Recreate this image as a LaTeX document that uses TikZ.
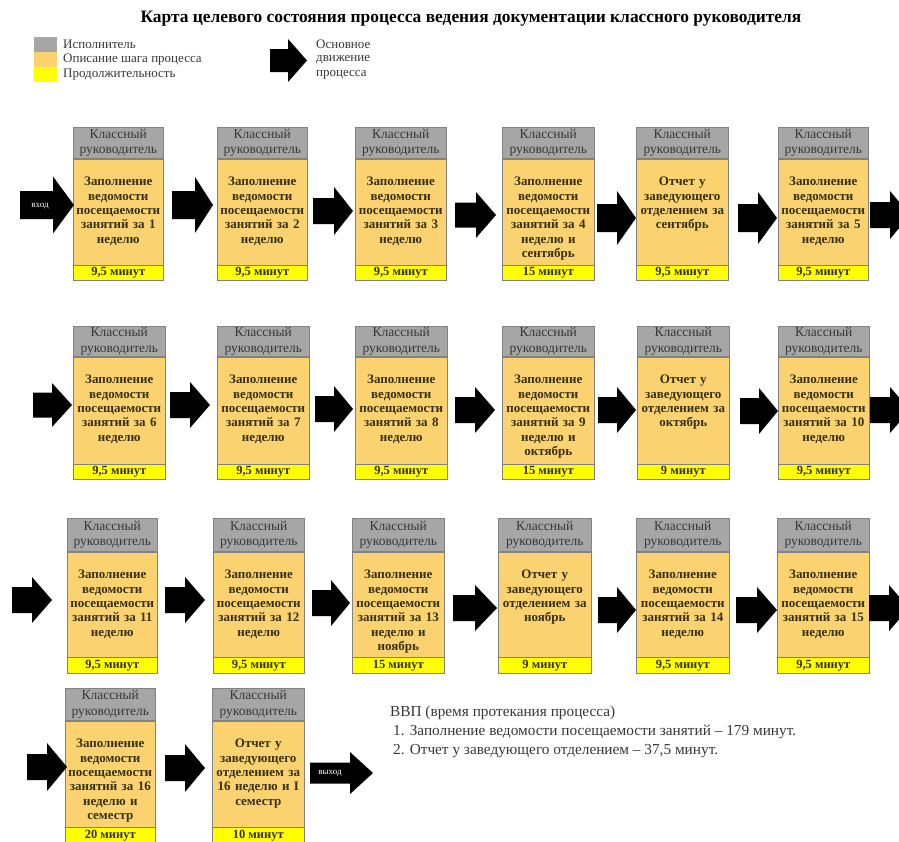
\documentclass[tikz,border=0pt]{standalone}
\usepackage{fontspec}
\setmainfont{Liberation Serif}
\definecolor{hdrgray}{RGB}{166,166,166}
\definecolor{bodyor}{RGB}{250,211,112}
\definecolor{duryel}{RGB}{255,255,0}
\definecolor{edgegray}{RGB}{130,130,130}
\definecolor{txtdark}{RGB}{55,48,20}
\definecolor{hdrtxt}{RGB}{55,55,55}
\tikzset{
 hdr/.style={draw=edgegray, line width=0.6pt, fill=hdrgray, inner sep=0pt, anchor=north west, align=center, text=hdrtxt, font=\fontsize{13.5}{15.5}\selectfont},
 bodybox/.style={draw=edgegray, line width=0.6pt, fill=bodyor, inner sep=0pt, anchor=north},
 bodytxt/.style={inner sep=0pt, anchor=north, align=center, text width=104pt, text=txtdark, font=\bfseries\fontsize{13}{14.3}\selectfont},
 durbox/.style={draw=edgegray, line width=0.6pt, fill=duryel, inner sep=0pt, anchor=north, text=txtdark, font=\bfseries\fontsize{12.5}{14}\selectfont},
 arrowfill/.style={fill=black},
 legsq/.style={inner sep=0pt, minimum width=23pt, minimum height=15pt},
 legtxt/.style={inner sep=0pt, anchor=west, text=hdrtxt, font=\fontsize{13}{15}\selectfont},
 arrtxt/.style={inner sep=0pt, text=white, font=\fontsize{9}{10}\selectfont},
}
% name, x, ytop, width, header h, body h, dur h, text, duration
\newcommand\pbox[9]{%
 \node[hdr, minimum width=#4pt, minimum height=#5pt] (#1h) at (#2,#3) {Классный\\руководитель};
 \node[bodybox, minimum width=#4pt, minimum height=#6pt] (#1b) at (#1h.south) {};
 \node[bodytxt] (#1t) at ([yshift=-18.5pt]#1b.north) {#8};
 \node[durbox, minimum width=#4pt, minimum height=#7pt] (#1d) at (#1b.south) {#9};
}
% name, x1, xhead, x2, ycenter, shaft half, head half
\newcommand\barrow[7]{%
 \coordinate (#1) at (#2,#5);
 \fill[arrowfill] (#2,{#5-#6}) -- (#3,{#5-#6}) -- (#3,{#5-#7}) -- (#4,#5) -- (#3,{#5+#7}) -- (#3,{#5+#6}) -- (#2,{#5+#6}) -- cycle;
}
\newcommand\zap[1]{Заполнение\\ведомости\\посещаемости\\занятий за #1\\неделю}
\newcommand\zapm[2]{Заполнение\\ведомости\\посещаемости\\занятий за #1\\неделю и\\#2}
\newcommand\otch[1]{Отчет у\\заведующего\\отделением за\\#1}

\begin{document}
\begin{tikzpicture}[x=1pt,y=-1pt]
\useasboundingbox (0,0) rectangle (899,841);
\clip (0,0) rectangle (899,841);

% title
\node[inner sep=0pt, font=\bfseries\fontsize{17.4}{20}\selectfont] (title) at (471,19) {Карта целевого состояния процесса ведения документации классного руководителя};

% legend
\node[legsq, fill=hdrgray] (lg1) at (45.5,44.5) {};
\node[legsq, fill=bodyor] (lg2) at (45.5,59.5) {};
\node[legsq, fill=duryel] (lg3) at (45.5,74.5) {};
\node[legtxt] (lt1) at (63,44.5) {Исполнитель};
\node[legtxt] (lt2) at (63,60) {Описание шага процесса};
\node[legtxt] (lt3) at (63,75) {Продолжительность};
\barrow{legarr}{270}{288}{307}{60.5}{11.5}{21.5}
\node[legtxt] (lt4) at (316,44.5) {Основное};
\node[legtxt] (lt5) at (316,60) {движение};
\node[legtxt] (lt6) at (316,75) {процесса};

% row 1
\pbox{r1c1}{73}{127}{90}{31}{106}{15}{\zap{1}}{9,5 минут}
\pbox{r1c2}{217}{127}{90}{31}{106}{15}{\zap{2}}{9,5 минут}
\pbox{r1c3}{355}{127}{91}{31}{106}{15}{\zap{3}}{9,5 минут}
\pbox{r1c4}{502}{127}{92}{31}{106}{15}{\zapm{4}{сентябрь}}{15 минут}
\pbox{r1c5}{636}{127}{92}{31}{106}{15}{\otch{сентябрь}}{9,5 минут}
\pbox{r1c6}{778}{127}{90}{31}{106}{15}{\zap{5}}{9,5 минут}
\barrow{in}{20}{53}{74}{205}{14}{28.5}
\node[arrtxt] (intxt) at (40,206) {вход};
\barrow{a11}{172}{195}{213}{205}{14}{28}
\barrow{a12}{313}{334}{353}{211}{13}{24}
\barrow{a13}{455}{476}{496}{215}{12.5}{23}
\barrow{a14}{597}{617}{636}{218}{14}{27}
\barrow{a15}{738}{758}{777}{218}{14}{26}
\barrow{a16}{870}{890}{910}{215}{13}{24}

% row 2
\pbox{r2c1}{73}{326}{92}{30}{107}{15}{\zap{6}}{9,5 минут}
\pbox{r2c2}{217}{326}{92}{30}{107}{15}{\zap{7}}{9,5 минут}
\pbox{r2c3}{355}{326}{92}{30}{107}{15}{\zap{8}}{9,5 минут}
\pbox{r2c4}{502}{326}{92}{30}{107}{15}{\zapm{9}{октябрь}}{15 минут}
\pbox{r2c5}{637}{326}{92}{30}{107}{15}{\otch{октябрь}}{9 минут}
\pbox{r2c6}{778}{326}{91}{30}{107}{15}{\zap{10}}{9,5 минут}
\barrow{a20}{33}{52}{72}{405}{12.5}{22}
\barrow{a21}{170}{190}{210}{405}{13}{23}
\barrow{a22}{315}{334}{353}{409}{13}{23}
\barrow{a23}{455}{475}{495}{410}{13}{23}
\barrow{a24}{598}{617}{636}{410}{13}{23}
\barrow{a25}{740}{759}{778}{411}{13}{23}
\barrow{a26}{870}{890}{910}{410}{13}{23}

% row 3
\pbox{r3c1}{67}{518}{90}{33}{105}{16}{\zap{11}}{9,5 минут}
\pbox{r3c2}{213}{518}{91}{33}{105}{16}{\zap{12}}{9,5 минут}
\pbox{r3c3}{352}{518}{92}{33}{105}{16}{\zapm{13}{ноябрь}}{15 минут}
\pbox{r3c4}{498}{518}{93}{33}{105}{16}{\otch{ноябрь}}{9 минут}
\pbox{r3c5}{636}{518}{93}{33}{105}{16}{\zap{14}}{9,5 минут}
\pbox{r3c6}{777}{518}{92}{33}{105}{16}{\zap{15}}{9,5 минут}
\barrow{a30}{12}{32}{52}{600}{13}{23}
\barrow{a31}{165}{185}{205}{600}{13}{23}
\barrow{a32}{312}{331}{350}{603}{13}{23}
\barrow{a33}{453}{475}{497}{608}{13}{23}
\barrow{a34}{598}{617}{636}{610}{13}{23}
\barrow{a35}{736}{757}{777}{610}{13}{23}
\barrow{a36}{869}{889}{909}{608}{13}{23}

% row 4
\pbox{r4c1}{65}{688}{90}{32}{106}{16}{\zapm{16}{семестр}}{20 минут}
\pbox{r4c2}{212}{688}{92}{32}{106}{16}{Отчет у\\заведующего\\отделением за\\16 неделю и I\\семестр}{10 минут}
\barrow{a40}{27}{47}{67}{767}{13}{24}
\barrow{a41}{165}{185}{205}{768}{13}{24}
\barrow{out}{310}{350}{373}{773}{10.5}{21}
\node[arrtxt] (outtxt) at (330,773) {выход};

% summary
\node[anchor=north west, align=left, inner sep=0pt, text=hdrtxt, font=\fontsize{15.3}{19}\selectfont] (vvp) at (390,705.5) {ВВП (время протекания процесса)\\\hspace*{3pt}1. Заполнение ведомости посещаемости занятий – 179 минут.\\\hspace*{3pt}2. Отчет у заведующего отделением – 37,5 минут.};
\end{tikzpicture}
\end{document}
